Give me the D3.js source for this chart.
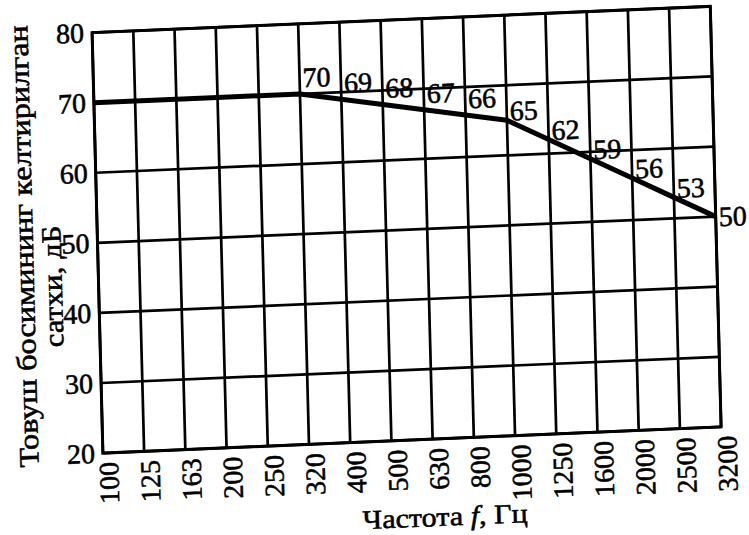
<!DOCTYPE html>
<html>
<head>
<meta charset="utf-8">
<script src="https://cdn.jsdelivr.net/npm/d3@7/dist/d3.min.js"></script>
<style>
  html, body { margin: 0; padding: 0; background: #fff; }
  svg { display: block; }
  text { font-family: "Liberation Serif", "Times New Roman", serif; fill: #000; stroke: #000; stroke-width: 0.55px; }
</style>
</head>
<body>
<svg id="chart" width="749" height="535"></svg>
<script>
// Octave-band frequencies (Hz) and the reduced sound pressure level (dB)
const categories = ["100", "125", "163", "200", "250", "320", "400", "500",
                    "630", "800", "1000", "1250", "1600", "2000", "2500", "3200"];
const levels = [70, 70, 70, 70, 70, 70, 69, 68, 67, 66, 65, 62, 59, 56, 53, 50];
const yTicks = [20, 30, 40, 50, 60, 70, 80];
// values are written next to the curve from this band onwards
const firstLabelled = "320";

const yTitleLines = ["Товуш босимининг келтирилган", "сатхи, дБ"];
const xTitle = { main: "Частота ", sym: "f", unit: ", Гц" };

const W = 618.2, H = 420.5;
const FONT = "Liberation Serif, Times New Roman, serif";
const svg = d3.select("#chart");
svg.append("rect").attr("width", 749).attr("height", 535).attr("fill", "#fff");

// the printed grid sits slightly tilted on the page
const g = svg.append("g")
  .attr("transform", "matrix(1,-0.0424,0.0257,1,92.1,32.6)");

const x = d3.scalePoint().domain(categories).range([0, W]);
const y = d3.scaleLinear().domain([20, 80]).range([H, 0]);

// grid
g.append("g").selectAll("line")
  .data(categories).join("line")
  .attr("x1", d => x(d)).attr("x2", d => x(d))
  .attr("y1", 0).attr("y2", H)
  .attr("stroke", "#000").attr("stroke-width", 2.7);

g.append("g").selectAll("line")
  .data(yTicks).join("line")
  .attr("x1", 0).attr("x2", W)
  .attr("y1", d => y(d)).attr("y2", d => y(d))
  .attr("stroke", "#000").attr("stroke-width", 2.7);

g.append("rect")
  .attr("x", 0).attr("y", 0).attr("width", W).attr("height", H)
  .attr("fill", "none").attr("stroke", "#000").attr("stroke-width", 3);

// y axis
const yAxis = g.append("g")
  .call(d3.axisLeft(y).tickValues(yTicks).tickSize(0).tickPadding(8));
yAxis.select(".domain").remove();
yAxis.attr("font-family", FONT).attr("font-size", 28);
yAxis.selectAll("text").attr("fill", "#000");

// x axis, labels turned upright
const xAxis = g.append("g")
  .attr("transform", `translate(0,${H})`)
  .call(d3.axisBottom(x).tickSize(0).tickPadding(0));
xAxis.select(".domain").remove();
xAxis.attr("font-family", FONT).attr("font-size", 28);
xAxis.selectAll("text")
  .attr("fill", "#000")
  .attr("text-anchor", "end")
  .attr("transform", "rotate(-90)")
  .attr("x", -9)
  .attr("y", 0)
  .attr("dy", "0.52em");

// level curve
const pts = categories.map((c, i) => ({ c, v: levels[i], i }));
g.append("path")
  .datum(pts)
  .attr("fill", "none")
  .attr("stroke", "#000")
  .attr("stroke-width", 5)
  .attr("stroke-linejoin", "round")
  .attr("d", d3.line().x(d => x(d.c)).y(d => y(d.v)));

// value labels
const start = categories.indexOf(firstLabelled);
const labelled = pts.slice(start);
g.append("g").attr("font-size", 28).selectAll("text")
  .data(labelled).join("text")
  .attr("x", d => x(d.c) + 3)
  .attr("y", d => {
    if (d.i === pts.length - 1) return y(d.v);
    const drop = y(pts[d.i + 1].v) - y(d.v);
    return y(d.v) - 10 + 0.5 * drop;
  })
  .attr("dy", d => d.i === pts.length - 1 ? "0.35em" : 0)
  .text(d => d.v);

// axis titles
g.append("text")
  .attr("transform", "translate(-64.5,210.6) rotate(-90)")
  .attr("text-anchor", "middle")
  .attr("textLength", 442).attr("lengthAdjust", "spacingAndGlyphs")
  .attr("font-size", 28)
  .text(yTitleLines[0]);
g.append("text")
  .attr("transform", "translate(-36.6,251.9) rotate(-90)")
  .attr("text-anchor", "middle")
  .attr("textLength", 122).attr("lengthAdjust", "spacingAndGlyphs")
  .attr("font-size", 28)
  .text(yTitleLines[1]);

const xt = g.append("text")
  .attr("x", 340.2).attr("y", 507.5)
  .attr("text-anchor", "middle")
  .attr("textLength", 165).attr("lengthAdjust", "spacingAndGlyphs")
  .attr("font-size", 27);
xt.append("tspan").text(xTitle.main);
xt.append("tspan").style("font-style", "italic").text(xTitle.sym);
xt.append("tspan").text(xTitle.unit);
</script>
</body>
</html>
